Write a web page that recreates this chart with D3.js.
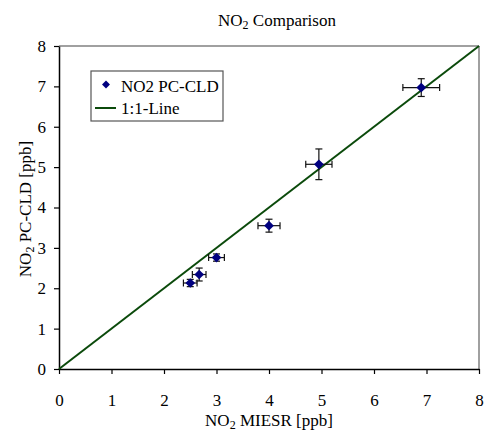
<!DOCTYPE html>
<html>
<head>
<meta charset="utf-8">
<script src="https://cdn.jsdelivr.net/npm/d3@7"></script>
<style>
  html, body { margin: 0; padding: 0; background: #fff; }
  svg { display: block; }
  text { font-family: "Liberation Serif", "Times New Roman", serif; fill: #000; }
</style>
</head>
<body>
<div id="chart"></div>
<script>
// NO2 comparison: PC-CLD vs MIESR, with x/y error bars and a 1:1 reference line

const miesr   = [2.50, 2.67, 3.00, 4.00, 4.95, 6.90];
const miesrEr = [0.13, 0.13, 0.15, 0.21, 0.25, 0.35];
const pccld   = [2.13, 2.34, 2.76, 3.55, 5.07, 6.97];
const pccldEr = [0.09, 0.16, 0.09, 0.16, 0.38, 0.22];
const oneToOne = [[0, 0], [8, 8]];
const tickVals = [0, 1, 2, 3, 4, 5, 6, 7, 8];

const W = 484, H = 434;
const margin = { top: 46, right: 5, bottom: 65, left: 59 };
const iw = W - margin.left - margin.right;
const ih = H - margin.top - margin.bottom;
const FS = '17px';

const svg = d3.select('#chart').append('svg')
  .attr('width', W).attr('height', H);

const g = svg.append('g').attr('transform', `translate(${margin.left},${margin.top})`);

const x = d3.scaleLinear().domain([0, 8]).range([0, iw]);
const y = d3.scaleLinear().domain([0, 8]).range([ih, 0]);

const points = miesr.map((v, i) => ({ x: v, xe: miesrEr[i], y: pccld[i], ye: pccldEr[i] }));

// ── Frame (top/right grey) ──────────────────────────────────────────────
g.append('line').attr('x1', 0).attr('x2', iw).attr('y1', 0).attr('y2', 0)
  .attr('stroke', '#808080').attr('stroke-width', 1.5);
g.append('line').attr('x1', iw).attr('x2', iw).attr('y1', 0).attr('y2', ih)
  .attr('stroke', '#808080').attr('stroke-width', 1.5);

// ── Axes ────────────────────────────────────────────────────────────────
const xAxis = g.append('g').attr('transform', `translate(0,${ih})`)
  .call(d3.axisBottom(x).tickValues(tickVals).tickSize(5).tickSizeOuter(0).tickPadding(20));
const yAxis = g.append('g')
  .call(d3.axisLeft(y).tickValues(tickVals).tickSize(5).tickSizeOuter(0).tickPadding(8));

[xAxis, yAxis].forEach(a => {
  a.attr('font-family', null).attr('font-size', null);
  a.select('.domain').attr('stroke', '#000').attr('stroke-width', 1.5);
  a.selectAll('.tick line').attr('stroke', '#000').attr('stroke-width', 1.2);
  a.selectAll('.tick text')
    .style('font-family', '"Liberation Serif", serif')
    .style('font-size', FS)
    .attr('fill', '#000');
});

// ── 1:1 line ────────────────────────────────────────────────────────────
g.append('path').datum(oneToOne)
  .attr('d', d3.line().x(d => x(d[0])).y(d => y(d[1])))
  .attr('fill', 'none').attr('stroke', '#0b4a0b').attr('stroke-width', 2);

// ── Error bars ──────────────────────────────────────────────────────────
const eb = g.append('g').attr('stroke', '#111').attr('stroke-width', 1.2);
const cap = 3.5;
points.forEach(d => {
  const cx = x(d.x), cy = y(d.y);
  const x0 = x(d.x - d.xe), x1 = x(d.x + d.xe);
  const y0 = y(d.y - d.ye), y1 = y(d.y + d.ye);
  eb.append('line').attr('x1', x0).attr('x2', x1).attr('y1', cy).attr('y2', cy);
  eb.append('line').attr('x1', x0).attr('x2', x0).attr('y1', cy - cap).attr('y2', cy + cap);
  eb.append('line').attr('x1', x1).attr('x2', x1).attr('y1', cy - cap).attr('y2', cy + cap);
  eb.append('line').attr('x1', cx).attr('x2', cx).attr('y1', y0).attr('y2', y1);
  eb.append('line').attr('x1', cx - cap).attr('x2', cx + cap).attr('y1', y0).attr('y2', y0);
  eb.append('line').attr('x1', cx - cap).attr('x2', cx + cap).attr('y1', y1).attr('y2', y1);
});

// ── Markers ─────────────────────────────────────────────────────────────
const diamond = d3.symbol().type(d3.symbolDiamond2).size(60);
g.selectAll('.pt').data(points).join('path')
  .attr('class', 'pt')
  .attr('d', diamond)
  .attr('transform', d => `translate(${x(d.x)},${y(d.y)})`)
  .attr('fill', '#000080');

// ── Legend ──────────────────────────────────────────────────────────────
const lg = svg.append('g').attr('transform', 'translate(91,71)');
lg.append('rect').attr('width', 132).attr('height', 50)
  .attr('fill', '#fff').attr('stroke', '#555').attr('stroke-width', 1.2);
lg.append('path').attr('d', d3.symbol().type(d3.symbolDiamond2).size(40))
  .attr('transform', 'translate(15,13.5)').attr('fill', '#000080');
lg.append('text').attr('x', 30).attr('y', 21).style('font-size', FS).text('NO2 PC-CLD');
lg.append('line').attr('x1', 4).attr('x2', 25).attr('y1', 37).attr('y2', 37)
  .attr('stroke', '#0b4a0b').attr('stroke-width', 2);
lg.append('text').attr('x', 30).attr('y', 43).style('font-size', FS).text('1:1-Line');

// ── Titles with subscript ───────────────────────────────────────────────
function subText(sel, pre, sub, post) {
  sel.append('tspan').text(pre);
  sel.append('tspan').attr('dy', 3).style('font-size', '12px').text(sub);
  sel.append('tspan').attr('dy', -3).text(post);
}

subText(svg.append('text').attr('x', 277).attr('y', 26)
  .attr('text-anchor', 'middle').style('font-size', FS), 'NO', '2', ' Comparison');

subText(svg.append('text').attr('x', margin.left + iw / 2).attr('y', 426)
  .attr('text-anchor', 'middle').style('font-size', FS), 'NO', '2', ' MIESR [ppb]');

subText(svg.append('text')
  .attr('transform', `translate(31,209) rotate(-90)`)
  .attr('text-anchor', 'middle').style('font-size', FS), 'NO', '2', ' PC-CLD [ppb]');
</script>
</body>
</html>
